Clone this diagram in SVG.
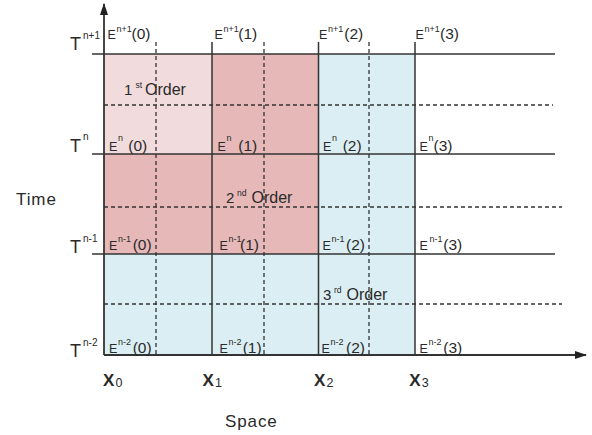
<svg xmlns="http://www.w3.org/2000/svg" width="592" height="435" viewBox="0 0 592 435">
<style>
text{font-family:"Liberation Sans",Arial,sans-serif;fill:#2a2a2a}
.solid{stroke:#333;stroke-width:1.5;fill:none}
.dash{stroke:#333;stroke-width:1.3;stroke-dasharray:4 3;fill:none}
.axis{stroke:#333;stroke-width:1.8;fill:none}
.t{font-size:18px}
.ts{font-size:10px}
.e{font-size:12.5px}
.es{font-size:9px}
.ep{font-size:15.5px}
.ord{font-size:15px}
.ords{font-size:8.6px}
.word{font-size:16px}
.lab{font-size:17px;letter-spacing:0.9px}
.x{font-size:17px;font-weight:bold}
.xs{font-size:12.5px}
</style>
<defs>
<marker id="arr" viewBox="0 0 12 8" refX="11" refY="4" markerWidth="12" markerHeight="8" markerUnits="userSpaceOnUse" orient="auto">
<path d="M0,0 L12,4 L0,8 Z" fill="#222"/>
</marker>
</defs>

<g id="regions">
<rect id="order1" x="104" y="54" width="108" height="100" fill="#F2DBDC"/>
<path id="order2" d="M212,54 H318 V254 H104 V154 H212 Z" fill="#E6B8B7"/>
<path id="order3" d="M318,54 H415 V355 H104 V254 H318 Z" fill="#DAEEF3"/>
</g>

<g id="connectors">
<line class="solid" x1="92" y1="54" x2="555" y2="54"/>
<line class="solid" x1="92" y1="154" x2="555" y2="154"/>
<line class="solid" x1="92" y1="254" x2="555" y2="254"/>
<line class="solid" x1="212" y1="42" x2="212" y2="355"/>
<line class="solid" x1="318.5" y1="42" x2="318.5" y2="355"/>
<line class="solid" x1="415" y1="42" x2="415" y2="355"/>
<line class="dash" x1="104" y1="105" x2="553" y2="105"/>
<line class="dash" x1="104" y1="207" x2="562" y2="207"/>
<line class="dash" x1="104" y1="304" x2="562" y2="304"/>
<line class="dash" x1="156" y1="42" x2="156" y2="355"/>
<line class="dash" x1="264" y1="42" x2="264" y2="355"/>
<line class="dash" x1="369" y1="42" x2="369" y2="355"/>
<line class="axis" x1="104" y1="355" x2="104" y2="4" marker-end="url(#arr)"/>
<line class="axis" x1="104" y1="355" x2="586" y2="355" marker-end="url(#arr)"/>
</g>

<g id="time-labels">
<text x="70" y="50"><tspan class="t">T</tspan><tspan class="ts" x="83" y="39">n+1</tspan></text>
<text x="70" y="152"><tspan class="t">T</tspan><tspan class="ts" x="83" y="140">n</tspan></text>
<text x="70" y="253"><tspan class="t">T</tspan><tspan class="ts" x="83" y="242">n-1</tspan></text>
<text x="70" y="356.5"><tspan class="t">T</tspan><tspan class="ts" x="83" y="346">n-2</tspan></text>
</g>

<g id="e-labels">
<text x="107.5" y="39"><tspan class="e">E</tspan><tspan class="es" x="116.5" y="31.5">n+1</tspan><tspan class="ep" x="131.5" y="39">(0)</tspan></text>
<text x="214.5" y="39"><tspan class="e">E</tspan><tspan class="es" x="223.5" y="31.5">n+1</tspan><tspan class="ep" x="238.3" y="39">(1)</tspan></text>
<text x="319" y="39"><tspan class="e">E</tspan><tspan class="es" x="328" y="31.5">n+1</tspan><tspan class="ep" x="344.3" y="39">(2)</tspan></text>
<text x="415.5" y="39"><tspan class="e">E</tspan><tspan class="es" x="424.5" y="31.5">n+1</tspan><tspan class="ep" x="440" y="39">(3)</tspan></text>

<text x="109" y="151"><tspan class="e">E</tspan><tspan class="es" x="118" y="141">n</tspan><tspan class="ep" x="128.3" y="151">(0)</tspan></text>
<text x="217.5" y="151"><tspan class="e">E</tspan><tspan class="es" x="226.5" y="141">n</tspan><tspan class="ep" x="238.3" y="151">(1)</tspan></text>
<text x="323" y="151"><tspan class="e">E</tspan><tspan class="es" x="332" y="141">n</tspan><tspan class="ep" x="342.7" y="151">(2)</tspan></text>
<text x="419.5" y="151"><tspan class="e">E</tspan><tspan class="es" x="428.5" y="141">n</tspan><tspan class="ep" x="433.5" y="151">(3)</tspan></text>

<text x="109" y="250"><tspan class="e">E</tspan><tspan class="es" x="118" y="241.5">n-1</tspan><tspan class="ep" x="132.7" y="250">(0)</tspan></text>
<text x="219.5" y="250"><tspan class="e">E</tspan><tspan class="es" x="228.5" y="241.5">n-1</tspan><tspan class="ep" x="240" y="250">(1)</tspan></text>
<text x="322.5" y="250"><tspan class="e">E</tspan><tspan class="es" x="331.5" y="241.5">n-1</tspan><tspan class="ep" x="346" y="250">(2)</tspan></text>
<text x="419.5" y="250"><tspan class="e">E</tspan><tspan class="es" x="429.5" y="241.5">n-1</tspan><tspan class="ep" x="443.3" y="250">(3)</tspan></text>

<text x="109" y="353"><tspan class="e">E</tspan><tspan class="es" x="118" y="344.5">n-2</tspan><tspan class="ep" x="132.7" y="353">(0)</tspan></text>
<text x="219.5" y="353"><tspan class="e">E</tspan><tspan class="es" x="228.5" y="344.5">n-2</tspan><tspan class="ep" x="242.7" y="353">(1)</tspan></text>
<text x="321.5" y="353"><tspan class="e">E</tspan><tspan class="es" x="330.5" y="344.5">n-2</tspan><tspan class="ep" x="346" y="353">(2)</tspan></text>
<text x="419.5" y="353"><tspan class="e">E</tspan><tspan class="es" x="428.5" y="344.5">n-2</tspan><tspan class="ep" x="443.3" y="353">(3)</tspan></text>
</g>

<g id="order-labels">
<text x="124" y="95"><tspan class="ord">1</tspan><tspan class="ords" x="135.5" y="88">st</tspan><tspan class="word" x="145" y="95">Order</tspan></text>
<text x="226" y="202.5"><tspan class="ord">2</tspan><tspan class="ords" x="237" y="195.5">nd</tspan><tspan class="word" x="251.5" y="202.5">Order</tspan></text>
<text x="323" y="300"><tspan class="ord">3</tspan><tspan class="ords" x="334" y="293">rd</tspan><tspan class="word" x="346.5" y="300">Order</tspan></text>
</g>

<g id="x-labels">
<text x="103" y="386"><tspan class="x">X</tspan><tspan class="xs" x="115.5" y="387">0</tspan></text>
<text x="202.5" y="386"><tspan class="x">X</tspan><tspan class="xs" x="215" y="387">1</tspan></text>
<text x="314" y="386"><tspan class="x">X</tspan><tspan class="xs" x="326.5" y="387">2</tspan></text>
<text x="409.3" y="386"><tspan class="x">X</tspan><tspan class="xs" x="421.8" y="387">3</tspan></text>
</g>

<g id="axis-titles">
<text class="lab" x="16" y="205">Time</text>
<text class="lab" x="225" y="427">Space</text>
</g>
</svg>
